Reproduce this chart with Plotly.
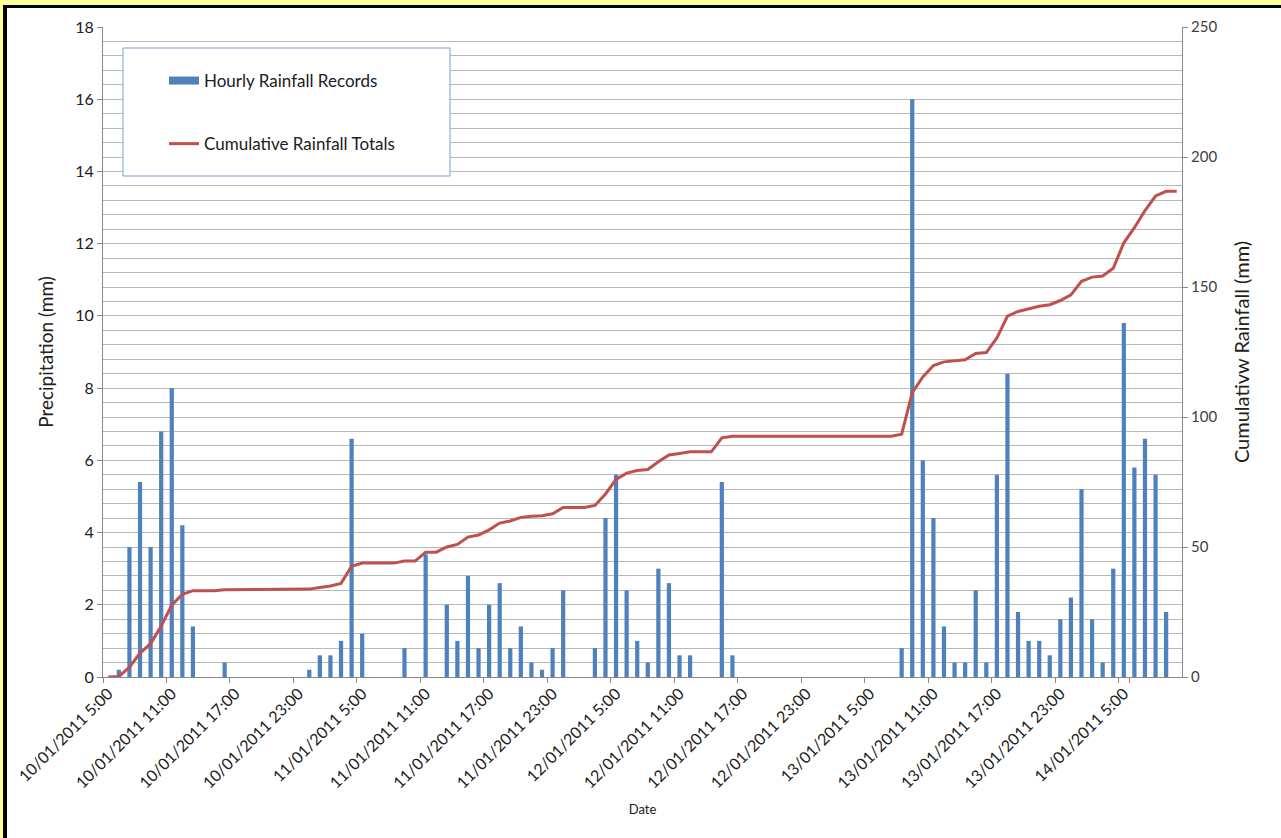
import pandas as pd
import plotly.graph_objects as go

# hourly records, one per hour starting 10/01/2011 5:00
start_hour = "2011-01-10 05:00"
n_hours = 102

hourly_rain = [
    0, 0.2, 3.6, 5.4, 3.6, 6.8, 8.0, 4.2, 1.4, 0,
    0, 0.4, 0, 0, 0, 0, 0, 0, 0, 0.2,
    0.6, 0.6, 1.0, 6.6, 1.2, 0, 0, 0, 0.8, 0,
    3.4, 0, 2.0, 1.0, 2.8, 0.8, 2.0, 2.6, 0.8, 1.4,
    0.4, 0.2, 0.8, 2.4, 0, 0, 0.8, 4.4, 5.6, 2.4,
    1.0, 0.4, 3.0, 2.6, 0.6, 0.6, 0, 0, 5.4, 0.6,
    0, 0, 0, 0, 0, 0, 0, 0, 0, 0,
    0, 0, 0, 0, 0, 0.8, 16.0, 6.0, 4.4, 1.4,
    0.4, 0.4, 2.4, 0.4, 5.6, 8.4, 1.8, 1.0, 1.0, 0.6,
    1.6, 2.2, 5.2, 1.6, 0.4, 3.0, 9.8, 5.8, 6.6, 5.6,
    1.8, 0,
]

cumulative_rain = [
    0, 0.2, 3.8, 9.2, 12.8, 19.6, 27.6, 31.8, 33.2, 33.2,
    33.2, 33.6, 33.6, 33.6, 33.6, 33.6, 33.6, 33.6, 33.6, 33.8,
    34.4, 35.0, 36.0, 42.6, 43.8, 43.8, 43.8, 43.8, 44.6, 44.6,
    48.0, 48.0, 50.0, 51.0, 53.8, 54.6, 56.6, 59.2, 60.0, 61.4,
    61.8, 62.0, 62.8, 65.2, 65.2, 65.2, 66.0, 70.4, 76.0, 78.4,
    79.4, 79.8, 82.8, 85.4, 86.0, 86.6, 86.6, 86.6, 92.0, 92.6,
    92.6, 92.6, 92.6, 92.6, 92.6, 92.6, 92.6, 92.6, 92.6, 92.6,
    92.6, 92.6, 92.6, 92.6, 92.6, 93.4, 109.4, 115.4, 119.8, 121.2,
    121.6, 122.0, 124.4, 124.8, 130.4, 138.8, 140.6, 141.6, 142.6, 143.2,
    144.8, 147.0, 152.2, 153.8, 154.2, 157.2, 167.0, 172.8, 179.4, 185.0,
    186.8, 186.8,
]

tick_labels = [
    "10/01/2011 5:00", "10/01/2011 11:00", "10/01/2011 17:00", "10/01/2011 23:00",
    "11/01/2011 5:00", "11/01/2011 11:00", "11/01/2011 17:00", "11/01/2011 23:00",
    "12/01/2011 5:00", "12/01/2011 11:00", "12/01/2011 17:00", "12/01/2011 23:00",
    "13/01/2011 5:00", "13/01/2011 11:00", "13/01/2011 17:00", "13/01/2011 23:00",
    "14/01/2011 5:00",
]

hours = [f"{d.day:02d}/{d.month:02d}/{d.year} {d.hour}:00"
         for d in pd.date_range(start_hour, periods=n_hours, freq="h")]

W, H = 1281, 838
L, R, T, B = 103, 99, 27, 161
PW, PH = W - L - R, H - T - B


def px(x):
    return (x - L) / PW


def py(y):
    return (H - B - y) / PH


FONT = "Lato, 'Open Sans', sans-serif"
BLUE = "#4F81BD"
RED = "#C0504D"

fig = go.Figure()
fig.add_trace(go.Bar(
    x=hours, y=hourly_rain, name="Hourly Rainfall Records",
    marker=dict(color=BLUE, line=dict(width=0)),
    showlegend=False,
))
# wide blue swatch for the bar series, as in the Excel legend
fig.add_trace(go.Scatter(
    x=[None], y=[None], name="Hourly Rainfall Records",
    mode="lines", line=dict(color=BLUE, width=8), legendgroup="a",
))
fig.add_trace(go.Scatter(
    x=hours, y=cumulative_rain, name="Cumulative Rainfall Totals", yaxis="y2",
    mode="lines", line=dict(color=RED, width=3),
    legendgroup="b",
))

shapes = [
    # legend frame
    dict(type="rect", xref="paper", yref="paper", x0=px(123), x1=px(450), y0=py(176), y1=py(48),
         line=dict(color="#7F9FCF", width=1), fillcolor="rgba(255,255,255,1)", layer="above"),
    # yellow / black border at top and left
    dict(type="rect", xref="paper", yref="paper", x0=px(0), x1=px(W), y0=py(5), y1=py(0),
         line=dict(width=0), fillcolor="#FFFF99", layer="above"),
    dict(type="rect", xref="paper", yref="paper", x0=px(0), x1=px(3), y0=py(H), y1=py(0),
         line=dict(width=0), fillcolor="#FFFF99", layer="above"),
    dict(type="rect", xref="paper", yref="paper", x0=px(3), x1=px(W), y0=py(8), y1=py(5),
         line=dict(width=0), fillcolor="#000000", layer="above"),
    dict(type="rect", xref="paper", yref="paper", x0=px(3), x1=px(7), y0=py(H), y1=py(5),
         line=dict(width=0), fillcolor="#000000", layer="above"),
]

fig.update_layout(
    width=W, height=H,
    margin=dict(l=L, r=R, t=T, b=B, pad=0),
    paper_bgcolor="white", plot_bgcolor="white",
    font=dict(family=FONT, color="#404040"),
    bargap=0.6,
    showlegend=True,
    legend=dict(
        x=px(164), y=py(63), xanchor="left", yanchor="top",
        bgcolor="rgba(0,0,0,0)", borderwidth=0,
        font=dict(size=17, color="#202020", family=FONT),
        traceorder="grouped", tracegroupgap=38, itemwidth=30,
    ),
    shapes=shapes,
    xaxis=dict(
        type="category", range=[-0.5, n_hours - 0.5],
        tickmode="array", tickvals=tick_labels, ticktext=tick_labels,
        tickson="boundaries", ticks="outside", ticklen=5, tickcolor="#888888",
        tickangle=-45, tickfont=dict(size=16, color="#202020"),
        showgrid=False, showline=True, linecolor="#888888", linewidth=1,
        title=dict(text="Date", font=dict(size=13, color="#202020"), standoff=14),
    ),
    yaxis=dict(
        range=[0, 18], dtick=2, ticks="outside", ticklen=5, tickcolor="#888888",
        tickfont=dict(size=16, color="#202020"),
        showline=True, linecolor="#888888", linewidth=1,
        showgrid=True, gridcolor="#B8B8B8", gridwidth=1,
        minor=dict(dtick=0.4, showgrid=True, gridcolor="#B8B8B8", gridwidth=1),
        zeroline=False,
        title=dict(text="Precipitation (mm)", font=dict(size=19, color="#202020"), standoff=16),
    ),
    yaxis2=dict(
        overlaying="y", side="right", range=[0, 250], dtick=50,
        ticks="outside", ticklen=5, tickcolor="#888888",
        tickfont=dict(size=15, color="#404040"),
        showline=True, linecolor="#888888", linewidth=1,
        showgrid=False, zeroline=False,
        title=dict(text="Cumulativw Rainfall (mm)", font=dict(size=20, color="#202020"), standoff=18),
    ),
)

fig.write_html("out.html", config={"displayModeBar": False},
               post_script="document.body.style.margin='0';")
